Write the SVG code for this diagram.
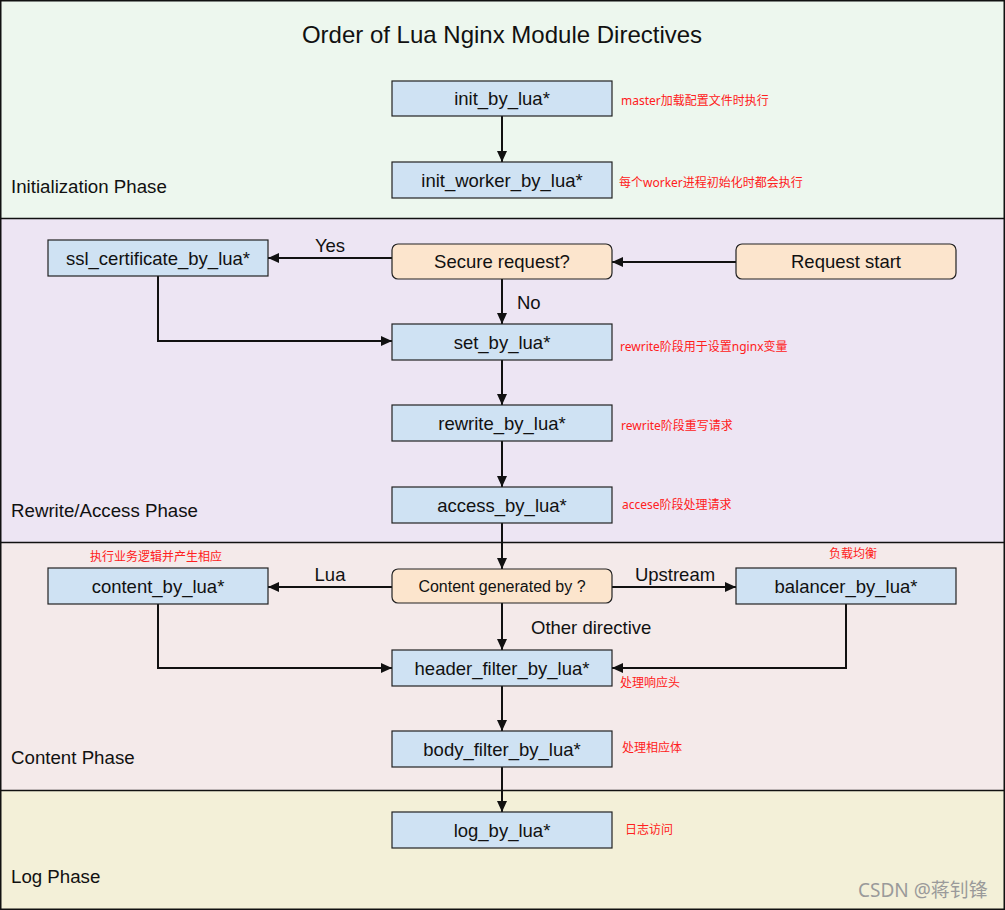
<svg xmlns="http://www.w3.org/2000/svg" width="1005" height="910" viewBox="0 0 1005 910">
<style>
.box{fill:#cfe2f3;stroke:#222;stroke-width:1.2}
.dec{fill:#fce5cd;stroke:#222;stroke-width:1.2}
.t{font-family:"Liberation Sans",Arial,sans-serif;font-size:18.5px;fill:#111;text-anchor:middle}
.lbl{font-family:"Liberation Sans",Arial,sans-serif;font-size:18.5px;fill:#111}
.ph{font-family:"Liberation Sans",Arial,sans-serif;font-size:18.7px;fill:#111}
.note{font-family:"Noto Sans","Noto Sans CJK SC",sans-serif;font-size:12px;fill:#ff2020}
.edge{fill:none;stroke:#111;stroke-width:2;marker-end:url(#arr)}
</style>
<defs>
<marker id="arr" markerUnits="userSpaceOnUse" markerWidth="12" markerHeight="10" refX="11" refY="5" orient="auto">
<path d="M0,0 L11,5 L0,10 z" fill="#111"/>
</marker>
</defs>
<g id="panels">
<rect x="0" y="0" width="1005" height="218" fill="#edf7ee"/>
<rect x="0" y="218" width="1005" height="324" fill="#ede5f3"/>
<rect x="0" y="542" width="1005" height="248" fill="#f4eaea"/>
<rect x="0" y="790" width="1005" height="120" fill="#f3f0d8"/>
<rect x="0.75" y="0.75" width="1003.5" height="908.5" fill="none" stroke="#111" stroke-width="1.5"/>
<line x1="0" y1="218.5" x2="1005" y2="218.5" stroke="#111" stroke-width="1.5"/>
<line x1="0" y1="542.5" x2="1005" y2="542.5" stroke="#111" stroke-width="1.5"/>
<line x1="0" y1="790.5" x2="1005" y2="790.5" stroke="#111" stroke-width="1.5"/>
<text class="ph" x="11" y="193">Initialization Phase</text>
<text class="ph" x="11" y="517">Rewrite/Access Phase</text>
<text class="ph" x="11" y="764">Content Phase</text>
<text class="ph" x="11" y="883">Log Phase</text>
</g>
<text id="title" x="502" y="43" font-family="Liberation Sans, Arial, sans-serif" font-size="24" fill="#111" text-anchor="middle">Order of Lua Nginx Module Directives</text>
<g id="connectors">
<line class="edge" x1="502" y1="116" x2="502" y2="162"/>
<line class="edge" x1="736" y1="262" x2="612" y2="262"/>
<line class="edge" x1="392" y1="258" x2="268" y2="258"/>
<line class="edge" x1="502" y1="279" x2="502" y2="324"/>
<polyline class="edge" points="158,276 158,341 392,341"/>
<line class="edge" x1="502" y1="360" x2="502" y2="405"/>
<line class="edge" x1="502" y1="441" x2="502" y2="487"/>
<line class="edge" x1="502" y1="523" x2="502" y2="569"/>
<line class="edge" x1="392" y1="587" x2="268" y2="587"/>
<line class="edge" x1="612" y1="587" x2="736" y2="587"/>
<line class="edge" x1="502" y1="603" x2="502" y2="650"/>
<polyline class="edge" points="158,604 158,668 392,668"/>
<polyline class="edge" points="846,604 846,668 612,668"/>
<line class="edge" x1="502" y1="686" x2="502" y2="731"/>
<line class="edge" x1="502" y1="767" x2="502" y2="812"/>
<text class="lbl" x="330" y="252" text-anchor="middle">Yes</text>
<text class="lbl" x="517" y="309">No</text>
<text class="lbl" x="330" y="581" text-anchor="middle">Lua</text>
<text class="lbl" x="675" y="581" text-anchor="middle">Upstream</text>
<text class="lbl" x="531" y="634">Other directive</text>
</g>
<g id="init_by_lua"><rect class="box" x="392" y="81" width="220" height="35"/><text class="t" x="502" y="105">init_by_lua*</text></g>
<g id="init_worker_by_lua"><rect class="box" x="392" y="162" width="220" height="36"/><text class="t" x="502" y="187">init_worker_by_lua*</text></g>
<g id="ssl_certificate_by_lua"><rect class="box" x="48" y="240" width="220" height="36"/><text class="t" x="158" y="265">ssl_certificate_by_lua*</text></g>
<g id="secure_request"><rect class="dec" x="392" y="244" width="220" height="35" rx="6"/><text class="t" x="502" y="268">Secure request?</text></g>
<g id="request_start"><rect class="dec" x="736" y="244" width="220" height="35" rx="6"/><text class="t" x="846" y="268">Request start</text></g>
<g id="set_by_lua"><rect class="box" x="392" y="324" width="220" height="36"/><text class="t" x="502" y="349">set_by_lua*</text></g>
<g id="rewrite_by_lua"><rect class="box" x="392" y="405" width="220" height="36"/><text class="t" x="502" y="430">rewrite_by_lua*</text></g>
<g id="access_by_lua"><rect class="box" x="392" y="487" width="220" height="36"/><text class="t" x="502" y="512">access_by_lua*</text></g>
<g id="content_by_lua"><rect class="box" x="48" y="568" width="220" height="36"/><text class="t" x="158" y="593">content_by_lua*</text></g>
<g id="content_generated"><rect class="dec" x="392" y="569" width="220" height="34" rx="6"/><text class="t" x="502" y="592" style="font-size:16px">Content generated by ?</text></g>
<g id="balancer_by_lua"><rect class="box" x="736" y="568" width="220" height="36"/><text class="t" x="846" y="593">balancer_by_lua*</text></g>
<g id="header_filter_by_lua"><rect class="box" x="392" y="650" width="220" height="36"/><text class="t" x="502" y="675">header_filter_by_lua*</text></g>
<g id="body_filter_by_lua"><rect class="box" x="392" y="731" width="220" height="36"/><text class="t" x="502" y="756">body_filter_by_lua*</text></g>
<g id="log_by_lua"><rect class="box" x="392" y="812" width="220" height="36"/><text class="t" x="502" y="837">log_by_lua*</text></g>
<g id="notes">
<text class="note" x="621" y="105">master加载配置文件时执行</text>
<text class="note" x="619" y="187">每个worker进程初始化时都会执行</text>
<text class="note" x="620" y="351">rewrite阶段用于设置nginx变量</text>
<text class="note" x="621" y="430">rewrite阶段重写请求</text>
<text class="note" x="622" y="509">accese阶段处理请求</text>
<text class="note" x="90" y="561">执行业务逻辑并产生相应</text>
<text class="note" x="829" y="558">负载均衡</text>
<text class="note" x="620" y="687">处理响应头</text>
<text class="note" x="622" y="752">处理相应体</text>
<text class="note" x="625" y="834">日志访问</text>
</g>
<text id="watermark" x="858" y="897" font-family="Noto Sans, Noto Sans CJK SC, sans-serif" font-size="19" fill="#9a9a9a">CSDN @蒋钊锋</text>
</svg>
